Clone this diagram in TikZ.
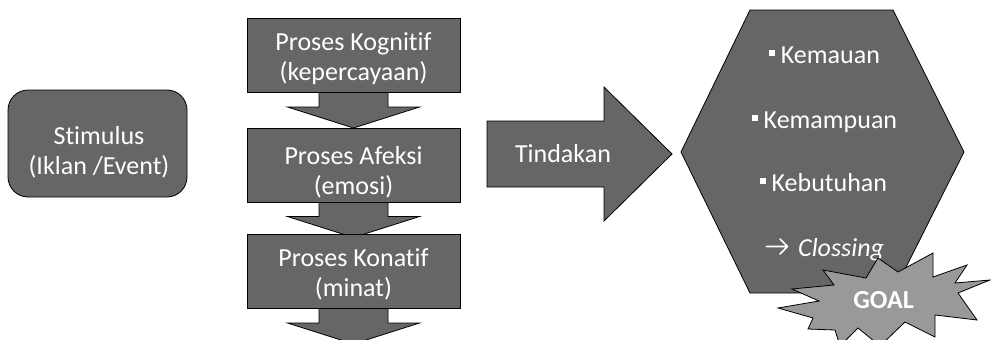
\documentclass[tikz,border=0pt]{standalone}
\usepackage{fontspec}
\setmainfont[RawFeature={-liga}]{Carlito}
\usetikzlibrary{calc}
\definecolor{boxgray}{HTML}{666666}
\definecolor{stargray}{HTML}{999999}
\begin{document}
\begin{tikzpicture}[x=1pt,y=-1pt,
  darkfill/.style={draw=black, line width=0.8pt, fill=boxgray, line join=miter},
  procbox/.style={darkfill, rectangle, minimum width=213pt, minimum height=74pt, inner sep=0pt},
  wtext/.style={text=white, font=\fontsize{26}{30}\selectfont, align=center, inner sep=0pt},
  bul/.style={wtext, anchor=base},
  pics/downarr/.style={code={
    \draw[darkfill] (-34.5,-2) -- (34.5,-2) -- (34.5,14.5) -- (66,14.5) -- (0,35.5)
      -- (-66,14.5) -- (-34.5,14.5) -- cycle;}}
]
\useasboundingbox (0,0) rectangle (991,340);
\clip (0,0) rectangle (991,340);

% Stimulus
\node[darkfill, rectangle, rounded corners=20pt, minimum width=179pt, minimum height=107pt]
  (stim) at (97.5,143.5) {};
\node[wtext] (stimtxt) at (99,152.5) {Stimulus\\(Iklan /Event)};

% process column
\coordinate (c1) at (353.5,55.5);
\coordinate (c2) at (353.5,165);
\coordinate (c3) at (353.5,271.5);
\pic at ($(c1)+(0,37)$) {downarr};
\pic at ($(c2)+(0,37)$) {downarr};
\pic at ($(c3)+(0,37)$) {downarr};
\node[procbox] (k1) at (c1) {};
\node[procbox] (k2) at (c2) {};
\node[procbox] (k3) at (c3) {};
\node[wtext] (t1) at (353.5,59) {Proses Kognitif\\(kepercayaan)};
\node[wtext] (t2) at (353.5,172.7) {Proses Afeksi\\(emosi)};
\node[wtext] (t3) at (353.5,274) {Proses Konatif\\(minat)};

% Tindakan arrow
\draw[darkfill] (487,121) -- (604,121) -- (604,87) -- (672,154) -- (604,221) -- (604,187) -- (487,187) -- cycle;
\node[bul] (tind) at (563,162.5) {Tindakan};

% hexagon
\draw[darkfill] (681,152) -- (750,10) -- (893,10) -- (964,152) -- (893,293) -- (750,293) -- cycle;
\coordinate (hex) at (822.5,152);
\newcommand\mybul{\rule[7.5pt]{5.8pt}{5.8pt}\hspace{6pt}}
\node[bul] (h1) at (824.5,63.3) {\mybul Kemauan};
\node[bul] (h2) at (824.5,128.3) {\mybul Kemampuan};
\node[bul] (h3) at (823.5,191.7) {\mybul Kebutuhan};
\node[bul, anchor=base west] (h4) at (798,256) {\textit{Clossing}};
\coordinate (arrtip) at (787.5,246.5);
\draw[white, line width=1.7pt, line cap=round, line join=round]
  ($(arrtip)+(-21,0)$) -- (arrtip) ($(arrtip)+(-7.5,-7.5)$) -- (arrtip) -- ($(arrtip)+(-7.5,7.5)$);

% GOAL star
\draw[draw=black, line width=0.8pt, fill=stargray, line join=miter]
  (778,308) -- (819,301) -- (792,289) -- (834,285) -- (823,270) -- (866,278) -- (878,258)
  -- (898,272) -- (933,253) -- (933,277) -- (967,265) -- (955,283) -- (990,280) -- (958,293)
  -- (977,320) -- (935,315) -- (935,337) -- (905,322) -- (880,346) -- (858,328) -- (840,346)
  -- (835,330) -- (808,329) -- (813,318) -- cycle;
\node[bul, font=\fontsize{26}{30}\selectfont\bfseries] (goal) at (883.7,308) {GOAL};
\end{tikzpicture}
\end{document}
